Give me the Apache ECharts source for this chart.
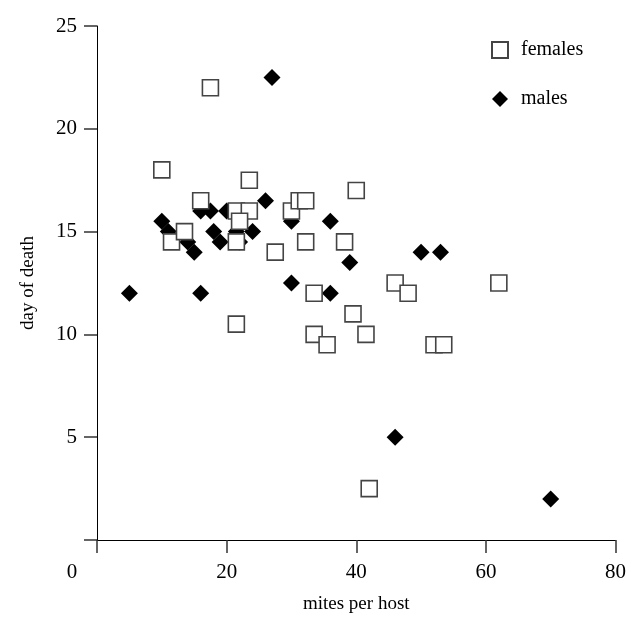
<!DOCTYPE html>
<html>
<head>
<meta charset="utf-8">
<script src="https://cdn.jsdelivr.net/npm/echarts@6/dist/echarts.min.js"></script>
<style>
  html, body { margin: 0; padding: 0; background: #fff; }
  #chart { width: 629px; height: 619px; }
</style>
</head>
<body>
<div id="chart"></div>
<script>
// mites per host, day of death
var females = [
  [10, 18], [17.5, 22], [11.5, 14.5], [13.5, 15], [16, 16.5], [23.5, 17.5],
  [21.5, 10.5], [21.5, 14.5], [21.5, 16], [23.5, 16], [22, 15.5], [27.5, 14],
  [30, 16], [31.2, 16.5], [32.2, 16.5], [40, 17], [32.2, 14.5], [38.2, 14.5],
  [33.5, 12], [46, 12.5], [48, 12], [39.5, 11], [33.5, 10], [35.5, 9.5],
  [41.5, 10], [52, 9.5], [53.5, 9.5], [62, 12.5], [42, 2.5]
];
var males = [
  [5, 12], [10, 15.5], [11, 15], [14, 14.5], [15, 14], [16, 16], [17.5, 16],
  [16, 12], [18, 15], [19, 14.5], [20, 16], [21.5, 15], [22, 14.5], [24, 15],
  [26, 16.5], [27, 22.5], [30, 15.5], [30, 12.5], [36, 15.5], [36, 12],
  [39, 13.5], [46, 5], [50, 14], [53, 14], [70, 2]
];
var xTicks = [0, 80, 20];   // min, max, step
var yTicks = [0, 25, 5];

var font = "'Liberation Serif', 'DejaVu Serif', serif";
var myChart = echarts.init(document.getElementById("chart"));

myChart.setOption({
  animation: false,
  backgroundColor: "#fff",
  textStyle: { fontFamily: font },
  grid: { left: 97, right: 13, top: 26, bottom: 74, containLabel: false },
  legend: {
    orient: "vertical",
    left: 486,
    top: 35,
    itemWidth: 16,
    itemHeight: 16,
    itemGap: 29,
    data: ["females", "males"],
    textStyle: { fontFamily: font, fontSize: 20, color: "#000", padding: [0, 0, 0, 8] }
  },
  xAxis: {
    type: "value",
    min: xTicks[0],
    max: xTicks[1],
    interval: xTicks[2],
    name: "mites per host",
    nameLocation: "middle",
    nameGap: 55,
    nameTextStyle: { fontFamily: font, fontSize: 19, color: "#000" },
    splitLine: { show: false },
    axisLine: { lineStyle: { color: "#000", width: 1 } },
    axisTick: { length: 13, lineStyle: { color: "#333", width: 1.5 } },
    axisLabel: {
      margin: 22,
      fontFamily: font,
      fontSize: 21,
      color: "#000",
      formatter: function (v) {
        return v === 0 ? "{z|0}" : String(v);
      },
      rich: {
        z: { fontFamily: font, fontSize: 21, color: "#000", padding: [0, 50, 0, 0] }
      }
    }
  },
  yAxis: {
    type: "value",
    min: yTicks[0],
    max: yTicks[1],
    interval: yTicks[2],
    name: "day of death",
    nameLocation: "middle",
    nameGap: 59,
    nameTextStyle: { fontFamily: font, fontSize: 19, color: "#000" },
    splitLine: { show: false },
    axisLine: { lineStyle: { color: "#000", width: 1 } },
    axisTick: { length: 13, lineStyle: { color: "#333", width: 1.5 } },
    axisLabel: {
      margin: 20,
      fontFamily: font,
      fontSize: 21,
      color: "#000",
      formatter: function (v) {
        return v === 0 ? "" : String(v);
      }
    }
  },
  series: [
    {
      name: "males",
      type: "scatter",
      data: males,
      symbol: "diamond",
      symbolSize: 17,
      z: 2,
      itemStyle: { color: "#000", opacity: 1 }
    },
    {
      name: "females",
      type: "scatter",
      data: females,
      symbol: "rect",
      symbolSize: 16,
      z: 3,
      itemStyle: { color: "#fff", borderColor: "#444", borderWidth: 1.6, opacity: 1 }
    }
  ]
});
</script>
</body>
</html>
